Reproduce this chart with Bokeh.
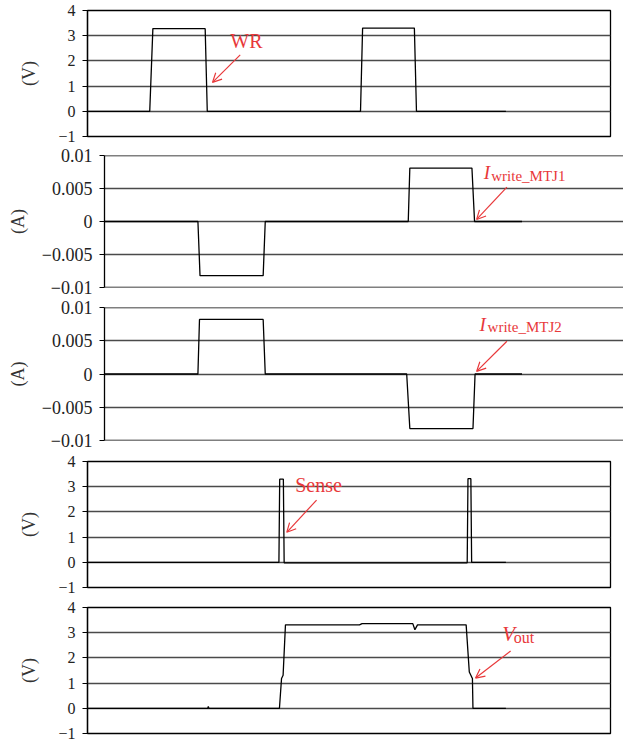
from bokeh.plotting import figure
from bokeh.models import FixedTicker, Label, Arrow, OpenHead, Range1d, Span
from bokeh.embed import file_html
from bokeh.resources import INLINE

# ---------------- data (time in ns) ----------------
wr_t = [0, 11.9, 12.5, 22.5, 22.9, 52.2, 52.6, 62.5, 62.9, 80]
wr_v = [0, 0, 3.28, 3.28, 0, 0, 3.3, 3.3, 0, 0]

i1_t = [0, 17.9, 18.3, 30.4, 30.8, 58.2, 58.5, 70.4, 70.9, 80]
i1_v = [0, 0, -0.0082, -0.0082, 0, 0, 0.0081, 0.0081, 0, 0]

i2_t = [0, 17.9, 18.2, 30.4, 30.8, 57.9, 58.5, 70.6, 71.0, 80]
i2_v = [0, 0, 0.0082, 0.0082, 0, 0, -0.0082, -0.0082, 0, 0]

sense_t = [0, 36.6, 36.75, 37.45, 37.6, 72.6, 72.75, 73.3, 73.45, 80]
sense_v = [0, 0, 3.3, 3.3, -0.02, -0.02, 3.32, 3.32, 0, 0]

vout_t = [0, 23.0, 23.1, 23.2, 36.7, 37.1, 37.4, 37.85, 52.0, 52.5, 62.2, 62.6,
          63.1, 72.4, 73.0, 73.6, 73.7, 80]
vout_v = [0, 0, 0.07, 0, 0, 1.18, 1.31, 3.31, 3.31, 3.36, 3.36, 3.12,
          3.31, 3.31, 1.44, 1.18, 0, 0]

v_ticks = [-1, 0, 1, 2, 3, 4]
v_tick_labels = ["\u22121", "0", "1", "2", "3", "4"]
a_ticks = [-0.01, -0.005, 0, 0.005, 0.01]
a_tick_labels = ["\u22120.01", "\u22120.005", "0", "0.005", "0.01"]

FONT = "Liberation Serif"
RED = "#e8383a"
GRID = "#4a4a4a"
W = 623


def make_panel(height, b_top, b_bottom, b_left, b_right, x_end, y_lo, y_hi,
               ticks, tick_labels, unit, tick_size, label_standoff, outline=True):
    p = figure(width=W, height=height, x_range=Range1d(0, x_end),
               y_range=Range1d(y_lo, y_hi), x_axis_location=None,
               toolbar_location=None, output_backend="svg",
               min_border_left=b_left, min_border_right=b_right,
               min_border_top=b_top, min_border_bottom=b_bottom)
    p.background_fill_color = "white"
    p.border_fill_color = "white"
    p.xgrid.grid_line_color = None
    if outline:
        p.outline_line_color = "black"
        p.outline_line_width = 1.3
    else:
        p.outline_line_color = None
        for edge in (y_lo, y_hi):
            p.add_layout(Span(location=edge, dimension="width",
                              line_color="black", line_width=1.3))
    ax = p.yaxis[0]
    ax.ticker = FixedTicker(ticks=ticks)
    ax.major_label_overrides = dict(zip(ticks, tick_labels))
    ax.major_label_text_font = FONT
    ax.major_label_text_font_size = tick_size
    ax.major_label_text_color = "#222222"
    ax.major_label_standoff = 7
    ax.major_tick_out = 5
    ax.major_tick_in = 0
    ax.major_tick_line_color = "black"
    ax.minor_tick_line_color = None
    ax.axis_line_color = "black"
    ax.axis_line_width = 1.3
    ax.axis_label = unit
    ax.axis_label_text_font = FONT
    ax.axis_label_text_font_style = "normal"
    ax.axis_label_text_font_size = "18px"
    ax.axis_label_text_color = "#333333"
    ax.axis_label_standoff = label_standoff
    g = p.ygrid[0]
    g.ticker = FixedTicker(ticks=ticks)
    g.grid_line_color = GRID
    g.grid_line_width = 1.3
    return p


def red_label(p, x, y, text, size, style="normal"):
    p.add_layout(Label(x=x, y=y, text=text, text_font=FONT, text_font_size=size,
                       text_font_style=style, text_color=RED,
                       text_baseline="alphabetic", text_align="left"))


def red_arrow(p, x0, y0, x1, y1):
    p.add_layout(Arrow(end=OpenHead(size=9, line_color=RED, line_width=1.2),
                       x_start=x0, y_start=y0, x_end=x1, y_end=y1,
                       line_color=RED, line_width=1.2))


# Panel 1: WR
p1 = make_panel(145, 10, 9, 87, 13, 100, -1, 4, v_ticks, v_tick_labels, "(V)", "16px", 16)
p1.line(wr_t, wr_v, line_color="black", line_width=1.3)
red_label(p1, 27.3, 2.78, "WR", "20px")
red_arrow(p1, 29.2, 2.24, 23.9, 1.15)

# Panel 2: I write MTJ1
p2 = make_panel(152, 10, 10, 104, 0, 99.44, -0.01, 0.01, a_ticks, a_tick_labels, "(A)", "18px", 11, outline=False)
p2.line(i1_t, i1_v, line_color="black", line_width=1.3)
red_label(p2, 72.65, 0.00739, "I", "19px", "italic")
red_label(p2, 74.1, 0.0069, "write_MTJ1", "15px")
red_arrow(p2, 77.1, 0.00522, 71.3, 0.00031)

# Panel 3: I write MTJ2
p3 = make_panel(153, 10, 10, 104, 0, 99.44, -0.01, 0.01, a_ticks, a_tick_labels, "(A)", "18px", 11, outline=False)
p3.line(i2_t, i2_v, line_color="black", line_width=1.3)
red_label(p3, 71.83, 0.00748, "I", "19px", "italic")
red_label(p3, 73.4, 0.0070, "write_MTJ2", "15px")
red_arrow(p3, 77.1, 0.00492, 71.3, 0.0004)

# Panel 4: Sense
p4 = make_panel(146, 11, 9, 87, 13, 100, -1, 4, v_ticks, v_tick_labels, "(V)", "16px", 16)
p4.line(sense_t, sense_v, line_color="black", line_width=1.3)
red_label(p4, 39.7, 3.08, "Sense", "20px")
red_arrow(p4, 43.8, 2.47, 38.1, 1.19)

# Panel 5: Vout
p5 = make_panel(146, 11, 9, 87, 13, 100, -1, 4, v_ticks, v_tick_labels, "(V)", "16px", 16)
p5.line(vout_t, vout_v, line_color="black", line_width=1.3)
red_label(p5, 79.3, 2.93, "V", "21px", "italic")
red_label(p5, 81.5, 2.79, "out", "16px")
red_arrow(p5, 80.9, 2.27, 74.2, 1.2)

open("out.html", "w").write(file_html([p1, p2, p3, p4, p5], INLINE))
